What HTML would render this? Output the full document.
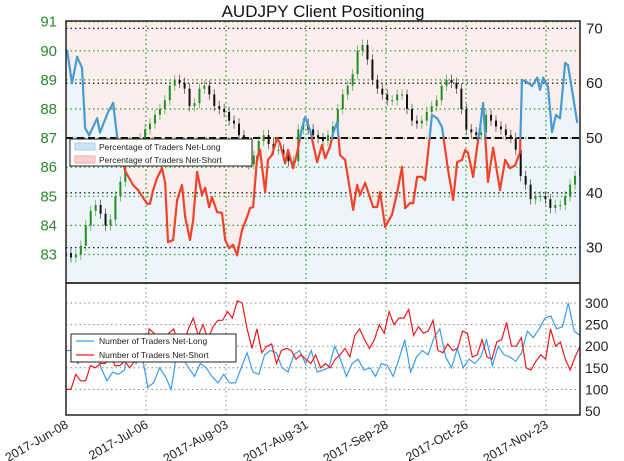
<!DOCTYPE html>
<html><head><meta charset="utf-8">
<style>
html,body{margin:0;padding:0;background:#fff;overflow:hidden;}
svg{display:block;font-family:"Liberation Sans","DejaVu Sans",sans-serif;}
</style></head>
<body>
<svg id="c" width="624" height="461" viewBox="0 0 624 461" xmlns="http://www.w3.org/2000/svg">
<text x="323" y="17" font-size="17" text-anchor="middle" fill="#111">AUDJPY Client Positioning</text>
<g id="topg"></g>
<g id="botg"></g>
</svg>
<script>
// ---------- data ----------
const dateTicks = ["2017-Jun-08","2017-Jul-06","2017-Aug-03","2017-Aug-31","2017-Sep-28","2017-Oct-26","2017-Nov-23"];
const tickDays = [0,28,56,84,112,140,168];
const priceTicks = [83,84,85,86,87,88,89,90,91];
const pctTicks = [30,40,50,60,70];
const countTicks = [50,100,150,200,250,300];
const priceCloses = [83.05,82.9,83.0,83.3,84,84.5,84.7,84.4,84,84.2,85,85.5,86.2,86.4,86.6,87,87.3,87.5,87.8,88,88.3,88.8,89,88.9,88.7,88.1,88.2,88.7,88.8,88.5,88.1,88.0,87.9,87.6,87.5,87.1,86.2,86.1,86.4,86.9,87.1,86.8,86.6,86.6,86.4,86.2,86.2,87.3,87.5,87.3,87.1,87,86.9,87.1,87.4,88,88.5,88.8,89.2,90,90.2,89.7,89,88.7,88.5,88.3,88.3,88.5,88.5,88,87.6,87.5,87.6,87.9,88.1,88.3,88.8,89,88.9,88.7,88,87.3,87.2,87.1,87.2,87.8,87.6,87.4,87.3,87.1,87,86.6,85.7,85.4,84.9,85,85,84.9,84.6,84.7,84.7,85,85.4,85.7,86];
const pctDays = [0.4,2.1,3.9,5.6,6.7,8.1,10.9,11.9,14.7,16.5,17.9,20.7,23.5,25.2,28.4,29.4,30.5,31.9,33.6,34.7,35.7,37.5,38.9,40.6,41.7,43.4,44.5,45.9,47.6,48.7,50.1,51.1,52.9,54.6,55.7,57.1,58.5,59.9,61.6,63.4,64.4,65.5,66.9,67.9,69.7,70.7,72.1,73.9,74.9,76.7,77.7,79.5,80.9,82.6,83.7,85.4,87.9,89.6,90.7,92.4,93.5,94.9,95.9,97.7,100.5,101.9,102.9,104.7,107.5,108.9,109.9,111.7,114.1,115.9,117.6,118.7,120.4,121.5,122.9,124.6,125.7,128.1,129.9,131.6,133.7,135.5,136.9,138.6,139.7,140.7,142.5,143.9,144.9,146.0,147.7,149.5,151.9,153.7,155.4,157.2,158.9,159.6,161.4,163.1,164.9,165.9,167.0,168.7,170.1,171.5,172.9,174.7,175.7,177.1,178.9];
const pctLong = [66,60,64.8,62.8,51.8,50.5,53.6,51,54.7,56.4,50.2,44,41.4,40.5,38,38,40.5,42.7,44.5,41.8,31,31.4,38.7,41.4,35.6,31.4,35,43.8,39.6,40.9,37.4,39.2,36.5,36.3,31.4,29.9,30.5,28.6,33.2,35.6,37.2,37.4,46.5,47.8,40.1,46,46.9,50,49,45.4,47.8,44.5,47.3,51.8,53.8,51.5,45.6,48.7,46.3,48.4,50.9,52.9,46.9,46,36.9,41.4,39.6,41.8,37.4,37.4,40.1,33.8,36,40,44.7,37.2,38.1,38.1,42.9,42.9,42.3,54.2,53.6,52,44.2,38.7,45.6,46,47.8,47.3,42.9,48.4,51.8,56.4,42,48.2,40.5,46,44.5,45,47.4,60.6,60.2,59.5,61,58.8,61,59.3,51.1,54.2,53.6,63.7,63.3,58.8,52.9];
const numLong = [190,190,160,175,215,195,150,120,140,135,145,220,160,180,105,115,150,130,100,185,170,150,130,160,150,130,115,135,115,115,150,185,140,135,180,190,185,150,140,180,190,160,190,140,145,150,200,170,130,160,170,145,150,130,160,155,130,170,215,140,175,190,180,220,240,175,150,195,150,170,160,175,215,155,200,180,175,165,185,235,220,240,265,270,240,245,300,235,225];
const numShort = [100,100,135,120,120,155,150,160,160,180,155,155,165,150,165,165,165,240,230,215,205,230,240,200,205,240,265,225,250,215,245,260,260,280,265,305,300,240,195,240,185,200,205,160,190,195,190,170,180,170,160,180,150,160,150,170,180,195,175,225,240,215,195,215,250,230,280,250,265,265,285,225,245,230,235,260,190,185,205,190,195,235,230,175,180,215,175,170,210,215,255,200,200,220,150,145,165,180,170,240,200,210,170,145,175,200];

// ---------- scales ----------
const X0=66, X1=580, TOTAL=179.9;
const xd = d => X0 + d/TOTAL*(X1-X0);
const T0=21, T1=283, B0=283, B1=415;
const yPrice = p => 21.7 + (91-p)*29.1;
const yPct = v => 138 + (50-v)*5.48;
const yCnt = v => 303 + (300-v)/50*21.6;
const NS="http://www.w3.org/2000/svg";
function mk(tag, parent, attrs){const e=document.createElementNS(NS,tag);for(const k in attrs)e.setAttribute(k,attrs[k]);parent.appendChild(e);return e;}
const topG=document.getElementById('topg'), botG=document.getElementById('botg');

// clip
const defs=mk('defs',topG,{});
const cp=mk('clipPath',defs,{id:'cpTop'});mk('rect',cp,{x:X0,y:T0,width:X1-X0,height:T1-T0});
const cp2=mk('clipPath',defs,{id:'cpBot'});mk('rect',cp2,{x:X0,y:B0,width:X1-X0,height:B1-B0});

// top background fills
const bgPink=mk('rect',topG,{x:X0,y:T0,width:X1-X0,height:T1-T0,fill:'#fdeeee'});


const n=Math.min(pctDays.length,pctLong.length);
let ad=`M${X0},${T1} L${X0},${yPct(pctLong[0]).toFixed(1)}`;
for(let i=0;i<n;i++) ad+=` L${xd(pctDays[i]).toFixed(1)},${yPct(pctLong[i]).toFixed(1)}`;
ad+=` L${X1},${yPct(pctLong[n-1]).toFixed(1)} L${X1},${T1} Z`;
const areaL=mk('path',topG,{d:ad,fill:'#eef5fa','clip-path':'url(#cpTop)'});



// grid
const gTop=mk('g',topG,{});


tickDays.forEach(d=>{ if(d>0) mk('line',gTop,{x1:xd(d),x2:xd(d),y1:T0,y2:T1,stroke:'#2a9a2a','stroke-dasharray':'1.5,3','stroke-width':1.2}); });
priceTicks.forEach(p=>{ mk('line',gTop,{x1:X0,x2:X1,y1:yPrice(p),y2:yPrice(p),stroke:'#2a9a2a','stroke-dasharray':'1.5,3','stroke-width':1.2}); });
pctTicks.forEach(v=>{ if(v!==50) mk('line',gTop,{x1:X0,x2:X1,y1:yPct(v),y2:yPct(v),stroke:'#222','stroke-dasharray':'1.5,3','stroke-width':1.3}); });
const l50=mk('line',gTop,{x1:X0,x2:X1,y1:yPct(50),y2:yPct(50),stroke:'#111','stroke-dasharray':'7,4','stroke-width':2});



// candles
const gC=mk('g',topG,{'clip-path':'url(#cpTop)'});


const np=priceCloses.length, step=TOTAL/(np-1);
for(let i=0;i<np;i++){
  const c=priceCloses[i], o=i>0?priceCloses[i-1]:c-0.1;
  const x=xd(i*step), col=c>=o?'#1f8f1f':'#111';
  const hi=Math.max(o,c)+0.18, lo=Math.min(o,c)-0.18;
  const w=mk('line',gC,{x1:x,x2:x,y1:yPrice(hi),y2:yPrice(lo),stroke:col,'stroke-width':0.8,opacity:0.7});
  
  
  const yt=yPrice(Math.max(o,c)), yb=yPrice(Math.min(o,c));
  const b=mk('rect',gC,{x:x-1,y:yt,width:2,height:Math.max(1,yb-yt),fill:col});
  
  
}

// percentage line, colored by side
const gP=mk('g',topG,{'clip-path':'url(#cpTop)'});


for(let i=0;i<n-1;i++){
  const a=pctLong[i], b=pctLong[i+1], xa=xd(pctDays[i]), xb=xd(pctDays[i+1]);
  const segs=[];
  if((a-50)*(b-50)<0){const t=(50-a)/(b-a);const xm=xa+t*(xb-xa);segs.push([xa,a,xm,50,a>50]);segs.push([xm,50,xb,b,b>50]);}
  else segs.push([xa,a,xb,b,(a+b)/2>=50]);
  segs.forEach(s=>{
    const ln=mk('line',gP,{x1:s[0],y1:yPct(s[1]),x2:s[2],y2:yPct(s[3]),stroke:s[4]?'#4a9ad0':'#f0432a','stroke-width':2.2,'stroke-linecap':'round'});
    
    
  });
}
mk('rect',topG,{x:X0,y:T0,width:X1-X0,height:T1-T0,fill:'none',stroke:'#222','stroke-width':1.5});

// top axis labels
priceTicks.forEach(p=>{const t=mk('text',topG,{x:57,y:yPrice(p)+5,'font-size':15,'text-anchor':'end',fill:'#2a8a2a'});t.textContent=p;
  });
pctTicks.forEach(v=>{const t=mk('text',topG,{x:586,y:yPct(v)+5,'font-size':15,fill:'#222'});t.textContent=v;
  });

// top legend
const lg=mk('g',topG,{});


mk('rect',lg,{x:70,y:139,width:182,height:27,fill:'#fff',stroke:'#222','stroke-width':1});
mk('rect',lg,{x:75,y:143,width:20,height:7,fill:'#cfe3f5',stroke:'#a9cdef'});
mk('rect',lg,{x:75,y:156,width:20,height:7,fill:'#fbd2d2',stroke:'#f5a9a9'});
let t1=mk('text',lg,{x:99,y:150,'font-size':8.5,fill:'#222'});t1.textContent='Percentage of Traders Net-Long';
let t2=mk('text',lg,{x:99,y:163,'font-size':8.5,fill:'#222'});t2.textContent='Percentage of Traders Net-Short';

// bottom grid
const gB=mk('g',botG,{});


tickDays.forEach(d=>{ if(d>0) mk('line',gB,{x1:xd(d),x2:xd(d),y1:B0,y2:B1,stroke:'#888','stroke-dasharray':'1.5,3'}); });
countTicks.forEach(v=>{ if(v>50) mk('line',gB,{x1:X0,x2:X1,y1:yCnt(v),y2:yCnt(v),stroke:'#888','stroke-dasharray':'1.5,3'}); });
function series(vals,col,name){
  const st=TOTAL/(vals.length-1);
  const d=vals.map((v,i)=>(i?'L':'M')+xd(i*st).toFixed(1)+','+yCnt(v).toFixed(1)).join(' ');
  const p=mk('path',botG,{d:d,fill:'none',stroke:col,'stroke-width':1.2,'clip-path':'url(#cpBot)'});
  
  
}
series(numLong,'#3b9cf0','net-long-count-line');
series(numShort,'#f01a1a','net-short-count-line');
mk('rect',botG,{x:X0,y:B0,width:X1-X0,height:B1-B0,fill:'none',stroke:'#222','stroke-width':1.5});
countTicks.forEach(v=>{const t=mk('text',botG,{x:585,y:yCnt(v)+5,'font-size':14,fill:'#222'});t.textContent=v;
  });
dateTicks.forEach((s,i)=>{const x=xd(tickDays[i])+3;const t=mk('text',botG,{x:x,y:427,'font-size':12.5,'text-anchor':'end',fill:'#222',transform:`rotate(-30 ${x} 427)`});t.textContent=s;
  });

// bottom legend
const lb=mk('g',botG,{});


mk('rect',lb,{x:71,y:334,width:165,height:28,fill:'#fff',stroke:'#222','stroke-width':1});
mk('line',lb,{x1:76,x2:94,y1:341,y2:341,stroke:'#3b9cf0','stroke-width':1.2});
mk('line',lb,{x1:76,x2:94,y1:355,y2:355,stroke:'#f01a1a','stroke-width':1.2});
let b1=mk('text',lb,{x:99,y:344,'font-size':8.5,fill:'#222'});b1.textContent='Number of Traders Net-Long';
let b2=mk('text',lb,{x:99,y:358,'font-size':8.5,fill:'#222'});b2.textContent='Number of Traders Net-Short';
</script>
</body></html>
